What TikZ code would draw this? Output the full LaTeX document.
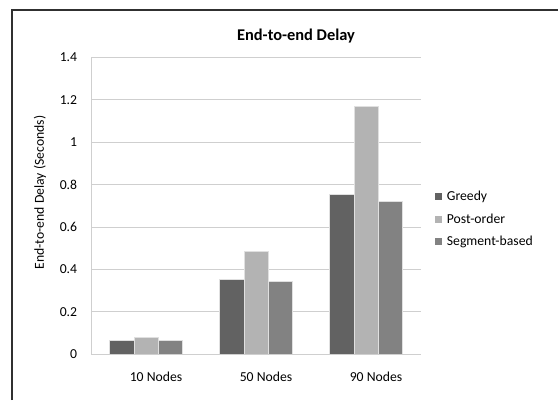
\documentclass[tikz,border=0pt]{standalone}
\usepackage{fontspec}
\setmainfont{Carlito}
\definecolor{cgreedy}{HTML}{626262}
\definecolor{cpost}{HTML}{B3B3B3}
\definecolor{cseg}{HTML}{828282}
\definecolor{cgrid}{HTML}{CFCFCF}
\definecolor{cframe}{HTML}{303030}
\begin{document}
\begin{tikzpicture}[x=1pt,y=-1pt,
  lbl/.style={font=\fontsize{13.7}{15}\selectfont, inner sep=0pt, text=black},
  ttl/.style={font=\fontsize{16.4}{18}\selectfont\bfseries, inner sep=0pt, text=black},
  grid/.style={draw=cgrid, line width=0.9pt},
  bar/.style={draw=white!88!black, line width=0.6pt},
  legsq/.style={minimum size=7pt, inner sep=0pt}]
\useasboundingbox (0,0) rectangle (558,400);
\fill[white] (0,0) rectangle (558,400);
% frame
\draw[cframe, line width=2pt] (11.5,400) -- (11.5,9.5) -- (558,9.5);
% gridlines and tick labels
\foreach \v/\t in {0/0,0.2/0.2,0.4/0.4,0.6/0.6,0.8/0.8,1/1,1.2/1.2,1.4/1.4}{
  \draw[grid] (91,{354-211.75*\v}) -- (421,{354-211.75*\v});
  \node[lbl, anchor=east] (tick\t) at (77.3,{354-211.75*\v}) {\t};
}
\draw[grid] (91,57.5) -- (91,354);
% bars: group centers 146, 256, 366
\foreach \c/\g/\p/\s/\n in {146/0.065/0.077/0.065/10, 256/0.353/0.486/0.341/50, 366/0.756/1.171/0.72/90}{
  \path[bar, fill=cgreedy] ({\c-36.7},354) rectangle ({\c-12.2},{354-211.75*\g});
  \path[bar, fill=cpost] ({\c-12.2},354) rectangle ({\c+12.2},{354-211.75*\p});
  \path[bar, fill=cseg] ({\c+12.2},354) rectangle ({\c+36.7},{354-211.75*\s});
  \node[lbl] (cat\n) at ({\c+10},376.7) {\n{} Nodes};
}
\draw[grid] (91,354) -- (421,354);
% title and axis label
\node[ttl] (title) at (296,36) {End-to-end Delay};
\node[lbl, rotate=90] (ylabel) at (40,192.5) {End-to-end Delay (Seconds)};
% legend
\node[legsq, fill=cgreedy] (lg1) at (438.5,196.5) {};
\node[lbl, anchor=west] (lt1) at (446.7,196.5) {Greedy};
\node[legsq, fill=cpost] (lg2) at (438.5,219) {};
\node[lbl, anchor=west] (lt2) at (446.7,219) {Post-order};
\node[legsq, fill=cseg] (lg3) at (438.5,241.5) {};
\node[lbl, anchor=west] (lt3) at (446.7,241.5) {Segment-based};
\end{tikzpicture}
\end{document}
